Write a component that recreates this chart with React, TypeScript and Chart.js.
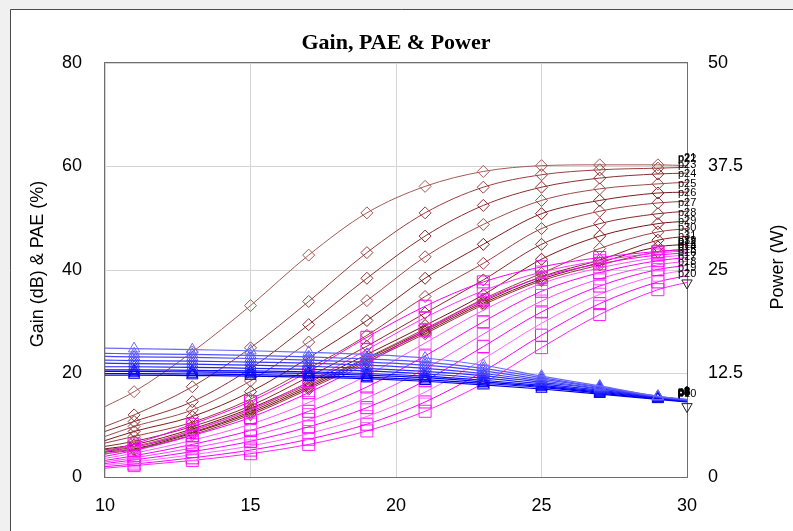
import React, { useEffect, useRef } from 'react';
import { Chart, registerables } from 'chart.js';

Chart.register(...registerables);

// Input power (dBm) at which every curve is sampled
const INPUT_DBM = [10, 11, 13, 15, 17, 19, 21, 23, 25, 27, 29, 30];
const X_TICKS = [10, 15, 20, 25, 30];
const LEFT_TICKS = [0, 20, 40, 60, 80];
const RIGHT_TICKS = [0, 12.5, 25, 37.5, 50];

// Gain (dB), left axis
const GAIN_LABELS = ['p1', 'p2', 'p3', 'p4', 'p5', 'p6', 'p7', 'p8', 'p9', 'p10'];
const GAIN_1 = [24.9, 24.8, 24.6, 24.4, 24.1, 23.7, 23.0, 21.6, 19.5, 17.6, 15.6, 15.0];
const GAIN_2 = [23.9, 23.8, 23.7, 23.5, 23.2, 22.8, 22.2, 21.0, 19.2, 17.4, 15.6, 14.9];
const GAIN_3 = [23.3, 23.2, 23.1, 22.9, 22.6, 22.2, 21.6, 20.5, 18.9, 17.3, 15.5, 14.9];
const GAIN_4 = [22.6, 22.5, 22.4, 22.2, 22.0, 21.6, 21.0, 20.0, 18.6, 17.1, 15.5, 14.8];
const GAIN_5 = [22.0, 21.9, 21.8, 21.6, 21.4, 21.0, 20.4, 19.6, 18.3, 17.0, 15.4, 14.8];
const GAIN_6 = [21.3, 21.3, 21.2, 21.0, 20.8, 20.5, 19.9, 19.1, 18.0, 16.8, 15.4, 14.7];
const GAIN_7 = [20.7, 20.7, 20.6, 20.5, 20.3, 20.0, 19.5, 18.7, 17.7, 16.6, 15.3, 14.7];
const GAIN_8 = [20.4, 20.4, 20.3, 20.2, 20.0, 19.7, 19.2, 18.4, 17.5, 16.4, 15.2, 14.6];
const GAIN_9 = [20.0, 20.0, 19.9, 19.8, 19.6, 19.3, 18.8, 18.1, 17.3, 16.2, 15.1, 14.6];
const GAIN_10 = [19.7, 19.7, 19.6, 19.5, 19.3, 19.0, 18.5, 17.8, 17.0, 16.0, 15.0, 14.5];
const GAIN_SERIES = [GAIN_1, GAIN_2, GAIN_3, GAIN_4, GAIN_5, GAIN_6, GAIN_7, GAIN_8, GAIN_9, GAIN_10];

// PAE (%), left axis
const PAE_LABELS = ['p11', 'p12', 'p13', 'p14', 'p15', 'p16', 'p17', 'p18', 'p19', 'p20'];
const PAE_1 = [4.9, 6.4, 10.2, 14.6, 20.4, 27.0, 33.0, 37.7, 40.6, 42.4, 43.6, 44.0];
const PAE_2 = [4.4, 5.7, 9.0, 13.0, 18.4, 24.6, 30.8, 36.0, 39.6, 41.8, 43.3, 43.7];
const PAE_3 = [4.0, 5.1, 8.0, 11.5, 16.3, 22.0, 28.4, 34.2, 38.6, 41.2, 42.9, 43.3];
const PAE_4 = [3.6, 4.6, 7.1, 10.2, 14.4, 19.6, 25.9, 32.2, 37.4, 40.4, 42.4, 42.9];
const PAE_5 = [3.2, 4.1, 6.3, 9.0, 12.7, 17.4, 23.4, 30.0, 35.9, 39.5, 41.8, 42.4];
const PAE_6 = [2.9, 3.7, 5.6, 7.9, 11.1, 15.3, 20.9, 27.6, 34.0, 38.3, 41.0, 41.7];
const PAE_7 = [2.6, 3.3, 4.9, 6.9, 9.7, 13.4, 18.6, 25.2, 31.9, 36.9, 40.1, 40.9];
const PAE_8 = [2.3, 2.9, 4.3, 6.0, 8.4, 11.7, 16.4, 22.8, 29.7, 35.3, 39.0, 40.0];
const PAE_9 = [2.0, 2.5, 3.7, 5.2, 7.3, 10.2, 14.5, 20.4, 27.4, 33.5, 37.7, 38.9];
const PAE_10 = [1.7, 2.2, 3.2, 4.5, 6.3, 8.9, 12.7, 18.1, 25.0, 31.4, 36.2, 37.6];
const PAE_SERIES = [PAE_1, PAE_2, PAE_3, PAE_4, PAE_5, PAE_6, PAE_7, PAE_8, PAE_9, PAE_10];

// Output power (W), right axis
const POWER_LABELS = ['p21', 'p22', 'p23', 'p24', 'p25', 'p26', 'p27', 'p28', 'p29', 'p30', 'p31', 'p32'];
const POWER_1 = [8.5, 10.3, 15.1, 20.7, 26.8, 31.9, 35.1, 36.9, 37.6, 37.7, 37.7, 37.6];
const POWER_2 = [6.1, 7.5, 10.9, 15.6, 21.2, 27.1, 31.9, 35.0, 36.5, 37.1, 37.3, 37.4];
const POWER_3 = [5.5, 6.7, 9.1, 13.1, 18.4, 24.0, 29.1, 32.8, 35.0, 36.1, 36.6, 36.7];
const POWER_4 = [4.9, 6.1, 8.1, 11.6, 16.3, 21.3, 26.6, 30.5, 33.4, 34.8, 35.4, 35.6];
const POWER_5 = [4.4, 5.5, 7.3, 10.3, 14.4, 18.9, 24.0, 28.1, 31.8, 33.4, 34.3, 34.4];
const POWER_6 = [4.1, 4.9, 6.6, 9.4, 13.1, 17.1, 21.8, 25.8, 30.0, 32.1, 33.1, 33.3];
const POWER_7 = [3.7, 4.3, 6.1, 8.6, 12.1, 15.8, 19.8, 23.8, 28.1, 30.6, 31.8, 32.1];
const POWER_8 = [3.4, 3.9, 5.8, 8.3, 11.4, 14.8, 18.3, 22.0, 26.3, 29.1, 30.6, 30.9];
const POWER_9 = [3.3, 3.7, 5.6, 8.1, 11.2, 14.4, 17.9, 21.5, 24.6, 27.6, 29.6, 30.0];
const POWER_10 = [3.1, 3.6, 5.4, 7.9, 11.0, 14.3, 17.7, 21.2, 24.2, 26.2, 28.6, 29.1];
const POWER_11 = [3.0, 3.4, 5.3, 7.7, 10.8, 14.1, 17.5, 21.0, 23.9, 25.9, 27.8, 28.1];
const POWER_12 = [2.8, 3.3, 5.1, 7.5, 10.6, 13.9, 17.3, 20.8, 23.7, 25.6, 27.2, 27.5];
const POWER_SERIES = [POWER_1, POWER_2, POWER_3, POWER_4, POWER_5, POWER_6, POWER_7, POWER_8, POWER_9, POWER_10, POWER_11, POWER_12];

// Open down-triangles at the right edge (left-axis units)
const END_MARK_X = [30, 30];
const END_MARK_Y = [37.5, 13.6];

const GAIN_COLORS = ['#6a6aff', '#5555ff', '#4848ff', '#3a3aff', '#2c2cff', '#1f1fff', '#1010ff', '#0000ff', '#0000ee', '#0000dd'];
const PAE_COLORS = ['#ff00ff', '#ff33ff', '#ff00ff', '#ff55ff', '#ff00ff', '#ff44ff', '#ff00ff', '#ff66ff', '#ff00ff', '#ff22ff'];
const POWER_COLORS = ['#a65a55', '#9a3f3f', '#8c2f2f', '#a04a4a', '#7e1d1d', '#994040', '#8b2a2a', '#7a1515', '#9c4444', '#862222', '#701010', '#963636'];

const SANS = '"Liberation Sans", Arial, sans-serif';

const markerRadius = (r: number) => INPUT_DBM.map((x) => (x === 10 || x === 30 ? 0 : r));

const pts = (ys: number[]) => INPUT_DBM.map((x, i) => ({ x, y: ys[i] }));

const framePlugin = {
  id: 'frame',
  beforeDraw(chart: any) {
    const { ctx, width, height } = chart;
    ctx.save();
    ctx.fillStyle = '#f0f0f0';
    ctx.fillRect(0, 0, width, height);
    ctx.fillStyle = '#ffffff';
    ctx.fillRect(10, 9, width - 10, height - 9);
    ctx.strokeStyle = '#4a4a4a';
    ctx.lineWidth = 1;
    ctx.beginPath();
    ctx.moveTo(10.5, height);
    ctx.lineTo(10.5, 9.5);
    ctx.lineTo(width, 9.5);
    ctx.stroke();
    ctx.restore();
  },
  beforeDatasetsDraw(chart: any) {
    const { ctx, chartArea: a } = chart;
    ctx.save();
    ctx.strokeStyle = '#6e6e6e';
    ctx.lineWidth = 1;
    ctx.strokeRect(Math.round(a.left) - 0.5, Math.round(a.top) - 0.5, Math.round(a.width) + 1, Math.round(a.height) + 1);
    ctx.restore();
  },
  afterDatasetsDraw(chart: any) {
    const { ctx } = chart;
    ctx.save();
    ctx.font = `11px ${SANS}`;
    ctx.fillStyle = '#000';
    ctx.textAlign = 'left';
    ctx.textBaseline = 'middle';
    chart.data.datasets.forEach((ds: any, i: number) => {
      if (!ds.endLabel) return;
      const meta = chart.getDatasetMeta(i);
      const el = meta.data[meta.data.length - 1];
      if (!el) return;
      ctx.fillText(ds.endLabel, el.x - 9, el.y - 8);
    });
    ctx.restore();
  },
  afterDraw(chart: any) {
    const { ctx } = chart;
    ctx.save();
    ctx.fillStyle = '#000';
    ctx.textAlign = 'center';
    ctx.textBaseline = 'middle';
    ctx.font = 'bold 22px "Liberation Serif", "Times New Roman", serif';
    ctx.fillText('Gain, PAE & Power', 396, 43);
    ctx.font = `18px ${SANS}`;
    ctx.translate(38, 264);
    ctx.rotate(-Math.PI / 2);
    ctx.fillText('Gain (dB) & PAE (%)', 0, 0);
    ctx.restore();
    ctx.save();
    ctx.fillStyle = '#000';
    ctx.textAlign = 'center';
    ctx.textBaseline = 'middle';
    ctx.font = `18px ${SANS}`;
    ctx.translate(778, 267);
    ctx.rotate(-Math.PI / 2);
    ctx.fillText('Power (W)', 0, 0);
    ctx.restore();
  },
};

export default function App() {
  const canvasRef = useRef<HTMLCanvasElement | null>(null);

  useEffect(() => {
    const canvas = canvasRef.current;
    if (!canvas) return;

    const datasets: any[] = [];

    GAIN_SERIES.forEach((ys, i) => {
      datasets.push({
        label: 'Gain ' + GAIN_LABELS[i],
        endLabel: GAIN_LABELS[i],
        data: pts(ys),
        yAxisID: 'y',
        borderColor: GAIN_COLORS[i],
        backgroundColor: 'transparent',
        borderWidth: 1.2,
        pointStyle: 'triangle',
        pointRadius: markerRadius(6.5),
        pointBorderColor: GAIN_COLORS[i],
        pointBackgroundColor: 'transparent',
        pointBorderWidth: 1,
        cubicInterpolationMode: 'monotone',
      });
    });

    PAE_SERIES.forEach((ys, i) => {
      datasets.push({
        label: 'PAE ' + PAE_LABELS[i],
        endLabel: PAE_LABELS[i],
        data: pts(ys),
        yAxisID: 'y',
        borderColor: PAE_COLORS[i],
        backgroundColor: 'transparent',
        borderWidth: 1,
        pointStyle: 'rect',
        pointRadius: markerRadius(8.5),
        pointBorderColor: PAE_COLORS[i],
        pointBackgroundColor: 'transparent',
        pointBorderWidth: 1,
        cubicInterpolationMode: 'monotone',
      });
    });

    POWER_SERIES.forEach((ys, i) => {
      datasets.push({
        label: 'Power ' + POWER_LABELS[i],
        endLabel: POWER_LABELS[i],
        data: pts(ys),
        yAxisID: 'y1',
        borderColor: POWER_COLORS[i],
        backgroundColor: 'transparent',
        borderWidth: 1,
        pointStyle: 'rectRot',
        pointRadius: markerRadius(6),
        pointBorderColor: POWER_COLORS[i],
        pointBackgroundColor: 'transparent',
        pointBorderWidth: 1,
        cubicInterpolationMode: 'monotone',
      });
    });

    datasets.unshift({
      label: 'end',
      type: 'scatter',
      data: END_MARK_X.map((x, i) => ({ x, y: END_MARK_Y[i] })),
      yAxisID: 'y',
      showLine: false,
      pointStyle: 'triangle',
      rotation: 180,
      pointRadius: 6,
      pointBorderColor: '#222',
      pointBackgroundColor: 'transparent',
      pointBorderWidth: 1,
      clip: false,
    });

    const tickFont = { family: SANS, size: 18 };

    const chart = new Chart(canvas, {
      type: 'line',
      data: { datasets },
      options: {
        responsive: false,
        animation: false,
        events: [],
        layout: { padding: { left: 0, right: 0, top: 63, bottom: 0 } },
        plugins: {
          legend: { display: false },
          title: { display: false },
          tooltip: { enabled: false },
        },
        scales: {
          x: {
            type: 'linear',
            min: 10,
            max: 30,
            afterBuildTicks: (s: any) => {
              s.ticks = X_TICKS.map((v) => ({ value: v }));
            },
            afterFit: (s: any) => {
              s.height = 54;
            },
            grid: { color: '#d4d4d4', drawTicks: false, lineWidth: 1 },
            border: { display: false },
            ticks: { font: tickFont, color: '#000', padding: 18, maxRotation: 0 },
          },
          y: {
            type: 'linear',
            position: 'left',
            min: 0,
            max: 80,
            afterBuildTicks: (s: any) => {
              s.ticks = LEFT_TICKS.map((v) => ({ value: v }));
            },
            afterFit: (s: any) => {
              s.width = 105;
            },
            grid: { color: '#d4d4d4', drawTicks: false, lineWidth: 1 },
            border: { display: false },
            ticks: { font: tickFont, color: '#000', padding: 23 },
          },
          y1: {
            type: 'linear',
            position: 'right',
            min: 0,
            max: 50,
            afterBuildTicks: (s: any) => {
              s.ticks = RIGHT_TICKS.map((v) => ({ value: v }));
            },
            afterFit: (s: any) => {
              s.width = 106;
            },
            grid: { display: false, drawTicks: false },
            border: { display: false },
            ticks: { font: tickFont, color: '#000', padding: 21, callback: (v: any) => String(v) },
          },
        },
      },
      plugins: [framePlugin],
    } as any);

    return () => {
      chart.destroy();
    };
  }, []);

  return (
    <div style={{ position: 'fixed', left: 0, top: 0, width: 793, height: 531, overflow: 'hidden' }}>
      <canvas ref={canvasRef} width={793} height={531} style={{ display: 'block', width: 793, height: 531 }} />
    </div>
  );
}
